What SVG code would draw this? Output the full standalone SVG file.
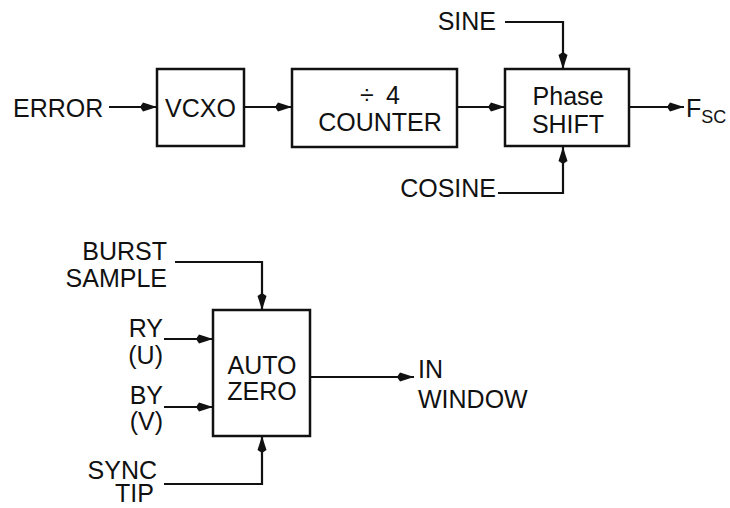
<svg xmlns="http://www.w3.org/2000/svg" width="730" height="508" viewBox="0 0 730 508">
<style>
text{font-family:"Liberation Sans",Arial,Helvetica,sans-serif;font-size:25px;fill:#111}
.box{fill:#fff;stroke:#111;stroke-width:2.5}
.wire{fill:none;stroke:#111;stroke-width:2.2}
.arr{marker-end:url(#ah)}
.r{text-anchor:end}
.m{text-anchor:middle}
.sub{font-size:18px}
</style>
<defs>
<marker id="ah" viewBox="0 0 18 12" markerWidth="18" markerHeight="12" refX="17" refY="6" orient="auto" markerUnits="userSpaceOnUse">
<path d="M0,6 L3,1.5 L17,6 L3,10.5 z" fill="#111"/>
</marker>
</defs>
<rect width="730" height="508" fill="#fff"/>
<g id="connectors">
<line class="wire arr" x1="109" y1="107" x2="157" y2="107"/>
<line class="wire arr" x1="244" y1="107" x2="292" y2="107"/>
<line class="wire arr" x1="457" y1="107" x2="505" y2="107"/>
<line class="wire arr" x1="629" y1="107" x2="684" y2="107"/>
<polyline class="wire arr" points="505,22 563,22 563,69"/>
<polyline class="wire arr" points="498,193 563,193 563,147"/>
<polyline class="wire arr" points="175,262 262,262 262,310"/>
<line class="wire arr" x1="164" y1="339" x2="213" y2="339"/>
<line class="wire arr" x1="164" y1="407" x2="213" y2="407"/>
<polyline class="wire arr" points="164,484 262,484 262,436"/>
<line class="wire arr" x1="310" y1="377" x2="414" y2="377"/>
</g>
<g id="error"><text x="13" y="117">ERROR</text></g>
<g id="vcxo">
<rect class="box" x="157" y="69" width="87" height="77"/>
<text class="m" x="200.5" y="117">VCXO</text>
</g>
<g id="counter">
<rect class="box" x="292" y="69" width="165" height="78"/>
<text x="360 386" y="104">÷4</text>
<text class="m" x="380" y="131">COUNTER</text>
</g>
<g id="phaseshift">
<rect class="box" x="505" y="69" width="124" height="77"/>
<text class="m" x="568" y="105">Phase</text>
<text class="m" x="568" y="133">SHIFT</text>
</g>
<g id="fsc"><text x="686" y="117">F<tspan class="sub" dy="6">SC</tspan></text></g>
<g id="sine"><text class="r" x="496" y="30">SINE</text></g>
<g id="cosine"><text class="r" x="496" y="197">COSINE</text></g>
<g id="burst">
<text class="r" x="167" y="260">BURST</text>
<text class="r" x="167" y="287">SAMPLE</text>
</g>
<g id="ry">
<text class="r" x="163" y="337">RY</text>
<text class="r" x="163" y="364">(U)</text>
</g>
<g id="by">
<text class="r" x="163" y="404">BY</text>
<text class="r" x="163" y="430">(V)</text>
</g>
<g id="sync">
<text class="r" x="157" y="479">SYNC</text>
<text class="r" x="154" y="502">TIP</text>
</g>
<g id="autozero">
<rect class="box" x="213" y="310" width="97" height="126"/>
<text class="m" x="262" y="374">AUTO</text>
<text class="m" x="262" y="400">ZERO</text>
</g>
<g id="inwindow">
<text x="418" y="378">IN</text>
<text x="418" y="408">WINDOW</text>
</g>
</svg>
